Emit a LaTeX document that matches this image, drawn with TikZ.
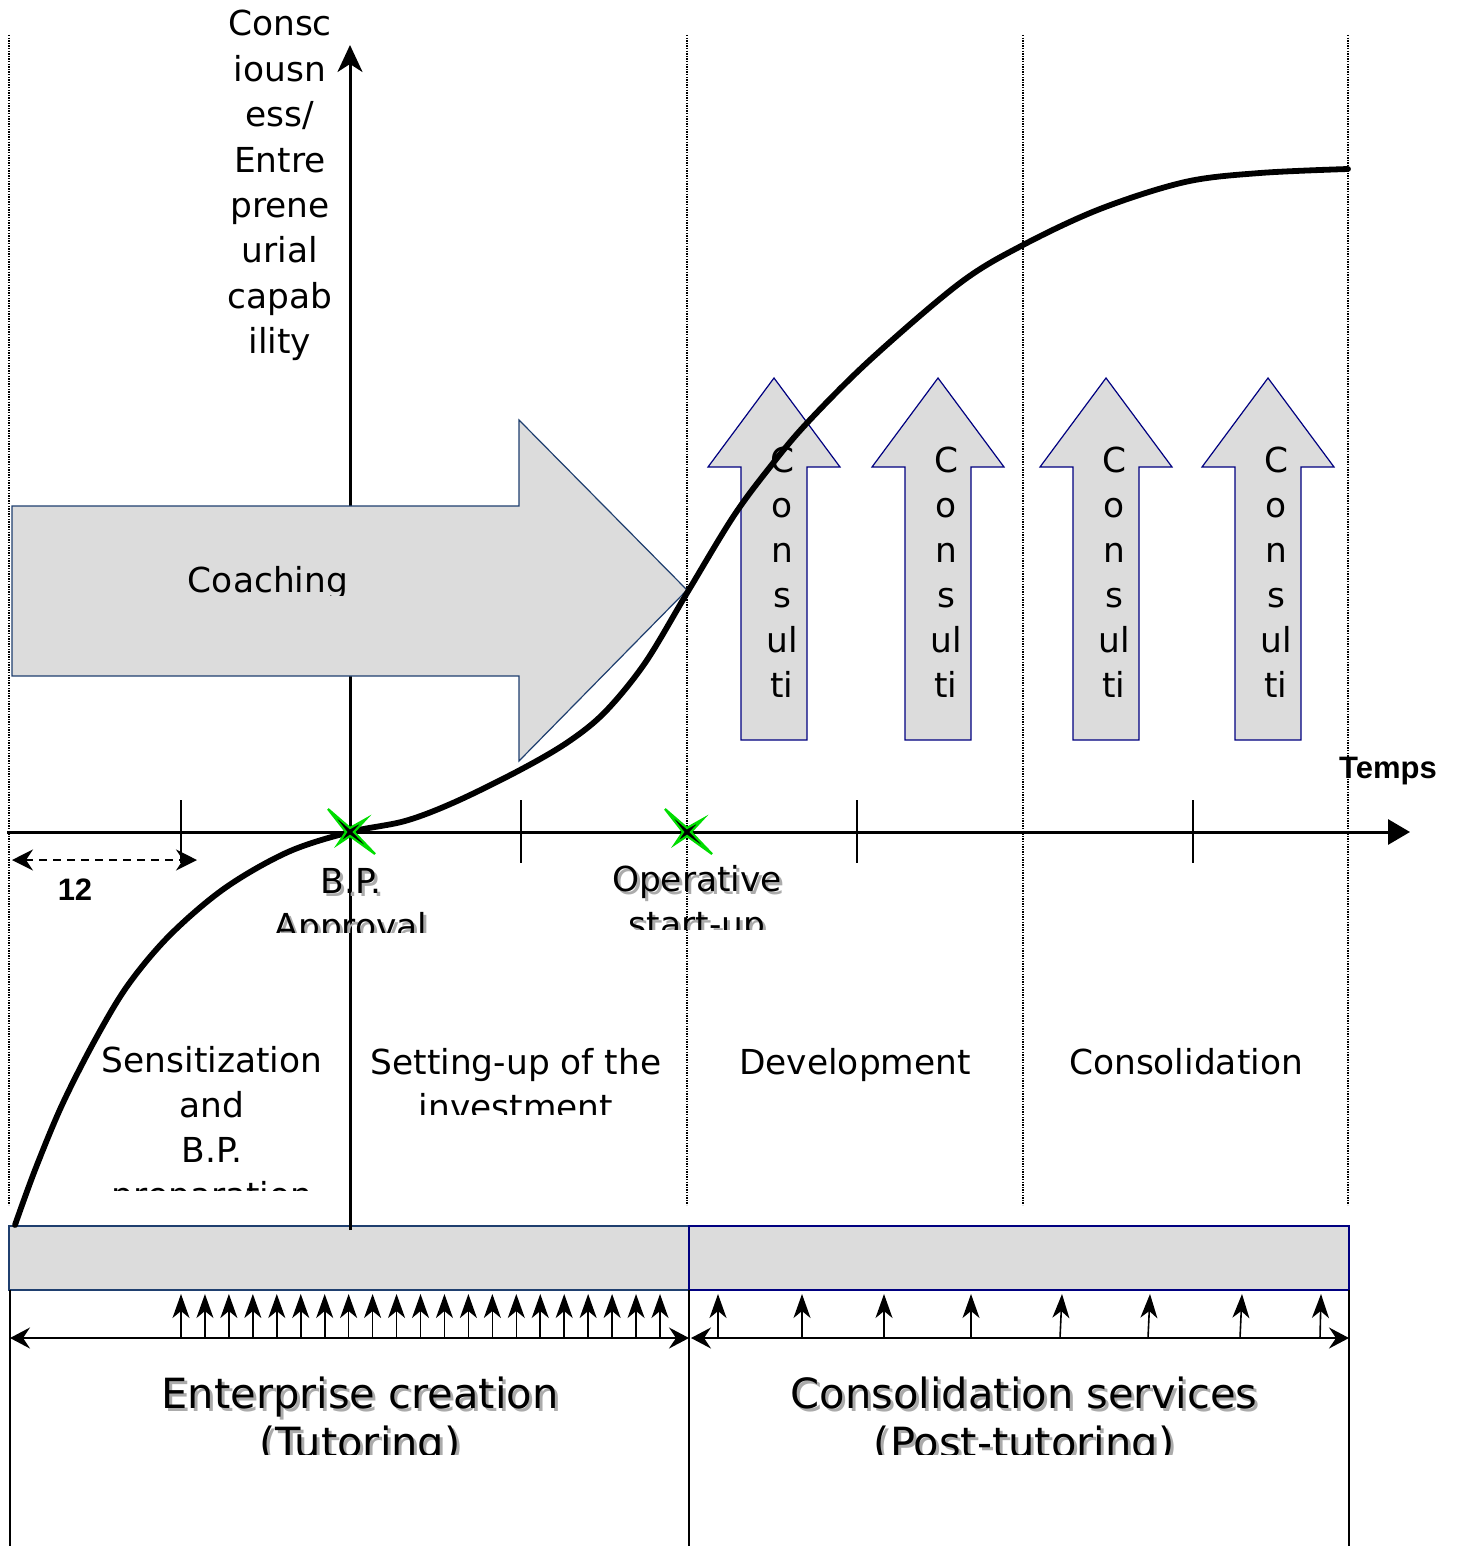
\documentclass[tikz,border=0pt]{standalone}
\usepackage{fontspec}
\setmainfont{DejaVu Sans}
\newfontfamily\boldsans{Liberation Sans}
\usetikzlibrary{arrows.meta}

\definecolor{panelgray}{HTML}{DCDCDC}
\definecolor{navyline}{HTML}{000080}
\definecolor{tealnavy}{HTML}{1F3F6F}
\definecolor{shadowgray}{HTML}{ABABAB}
\definecolor{stargreen}{HTML}{00DD00}

\begin{document}
\begin{tikzpicture}[x=0.5pt,y=-0.5pt,
  txt/.style={font=\fontsize{17.2}{20}\selectfont, inner sep=0pt, anchor=base},
  bigtxt/.style={font=\fontsize{20.8}{24}\selectfont, inner sep=0pt, anchor=base},
  boldtxt/.style={font=\boldsans\bfseries\fontsize{15.5}{18}\selectfont, inner sep=0pt, anchor=base},
  shade/.style={text=shadowgray},
  guide/.style={line width=0.7pt, dash pattern=on 0.7pt off 0.6pt},
  axisline/.style={line width=1.5pt},
  tickline/.style={line width=0.8pt},
  panel/.style={fill=panelgray, draw=navyline, line width=0.6pt},
  bar/.style={fill=panelgray, line width=1pt},
  curve/.style={line width=2.9pt, line join=round, line cap=round},
  starshape/.style={fill=black, draw=stargreen, line width=1.1pt, line join=miter},
  span/.style={line width=1.1pt, {Stealth[length=10pt,width=10.5pt,inset=3.5pt]}-{Stealth[length=10pt,width=10.5pt,inset=3.5pt]}},
  pulse/.style={line width=0.8pt, -{Stealth[length=12pt,width=8.5pt,inset=3.5pt]}},
  edge/.style={line width=0.8pt}
]
\useasboundingbox (0,0) rectangle (1456,1546);

% phase boundaries
\foreach \gx in {9,687,1023,1348}
  \draw[guide] (\gx,35) -- (\gx,1205);

% service bars
\draw[bar, draw=tealnavy] (9,1226) rectangle (689,1290);
\draw[bar, draw=navyline] (689,1226) rectangle (1349,1290);

% axes
\coordinate (xstart) at (7,832);
\coordinate (xend) at (1410,832);
\coordinate (ystart) at (350,1230);
\coordinate (yend) at (350,45);
\draw[axisline, -{Triangle[length=11pt,width=12.5pt]}] (xstart) -- (xend);
\draw[axisline, -{Stealth[length=13.5pt,width=12.5pt,inset=4pt]}] (ystart) -- (yend);
\foreach \tx in {181,521,857,1193}
  \draw[tickline] (\tx,800) -- (\tx,863);

% unit interval
\coordinate (ua) at (12,860);
\coordinate (ub) at (197,860);
\draw[line width=1pt, dash pattern=on 4pt off 3pt,
  {Stealth[length=10.5pt,width=10.5pt,inset=3.5pt]}-{Stealth[length=10.5pt,width=10.5pt,inset=3.5pt]}] (ua) -- (ub);
\node[boldtxt] (unit) at (75,900) {12};

% coaching arrow
\draw[panel, draw=tealnavy] (12,506) -- (519,506) -- (519,420) -- (687,590)
  -- (519,761) -- (519,676) -- (12,676) -- cycle;
\begin{scope}
  \clip (150,540) rectangle (420,595);
  \node[txt] (coach) at (268,592) {Coaching};
\end{scope}

% consulting arrows
\foreach \cx/\nm in {774/a,938/b,1106/c,1268/d}{
  \draw[panel] (\cx-33,740) -- (\cx-33,467) -- (\cx-66,467) -- (\cx,378)
    -- (\cx+66,467) -- (\cx+33,467) -- (\cx+33,740) -- cycle;
  \foreach \ch [count=\k from 0] in {C,o,n,s,ul,ti}
    \node[txt] (cons\nm\k) at (\cx+8,472+45*\k) {\ch};
}

% capability curve
\draw[curve] plot[smooth, tension=0.55] coordinates {
  (15,1225) (35,1170) (62,1105) (95,1040) (128,985) (170,935) (225,888)
  (288,852) (350,832) (405,821) (455,802) (520,770) (568,742) (605,712)
  (645,663) (687,593) (733,517) (770,467) (807,423) (870,360) (960,283)
  (1023,245) (1100,209) (1185,182) (1260,173) (1348,169)};

% milestones
\coordinate (bp) at (350,832);
\coordinate (op) at (687,832);
\foreach \m in {bp,op}{
  \begin{scope}[shift={(\m)}]
    \draw[starshape] (-22,-23) -- (0,-4) -- (16,-13) -- (4,0) -- (25,22)
      -- (0,4) -- (-12,12) -- (-4,0) -- cycle;
  \end{scope}
}

% y axis title
\foreach \w [count=\k from 0] in {Consc,iousn,ess/,Entre,prene,urial,capab,ility}
  \node[txt] (ylab\k) at (280,36+45.4*\k) {\w};

\node[boldtxt] (temps) at (1388,778) {Temps};

% milestone labels
\begin{scope}
  \clip (250,855) rectangle (460,932);
  \node[txt, shade] (bpas) at (354,896) {B.P.};
  \node[txt] (bpa) at (351,893) {B.P.};
  \node[txt, shade] (bpbs) at (354,941) {Approval};
  \node[txt] (bpb) at (351,938) {Approval};
\end{scope}
\begin{scope}
  \clip (590,850) rectangle (810,929);
  \node[txt, shade] (opas) at (700,894) {Operative};
  \node[txt] (opa) at (697,891) {Operative};
  \node[txt, shade] (opbs) at (700,939) {start-up};
  \node[txt] (opb) at (697,936) {start-up};
\end{scope}

% phase names
\begin{scope}
  \clip (80,1030) rectangle (345,1190);
  \foreach \w [count=\k from 0] in {Sensitization,and,B.P.,preparation}
    \node[txt] (sens\k) at (212,1072+45*\k) {\w};
\end{scope}
\begin{scope}
  \clip (355,1030) rectangle (680,1114);
  \node[txt] (setup0) at (516,1074) {Setting-up of the};
  \node[txt] (setup1) at (516,1119) {investment};
\end{scope}
\node[txt] (devel) at (855,1074) {Development};
\node[txt] (consol) at (1186,1074) {Consolidation};

% service periods
\draw[edge] (10,1290) -- (10,1546);
\draw[edge] (689,1290) -- (689,1546);
\draw[edge] (1349,1290) -- (1349,1546);
\coordinate (sa) at (10,1338);
\coordinate (sb) at (689,1338);
\coordinate (sc) at (691,1338);
\coordinate (sd) at (1349,1338);
\draw[span] (sa) -- (sb);
\draw[span] (sc) -- (sd);
\foreach \k in {0,...,20}
  \draw[pulse] (181+23.95*\k,1338) -- (181+23.95*\k,1294);
\foreach \bx/\tx in {718/718,802/802,884/884,971/971,1060/1062,1148/1150,1240/1242,1320/1321}
  \draw[pulse] (\bx,1338) -- (\tx,1294);

\begin{scope}
  \clip (100,1360) rectangle (640,1454);
  \node[bigtxt, shade] (ecs) at (363,1411) {Enterprise creation};
  \node[bigtxt] (ec) at (360,1408) {Enterprise creation};
  \node[bigtxt, shade] (tuts) at (363,1460) {(Tutoring)};
  \node[bigtxt] (tut) at (360,1457) {(Tutoring)};
\end{scope}
\begin{scope}
  \clip (720,1360) rectangle (1330,1454);
  \node[bigtxt, shade] (css) at (1027,1411) {Consolidation services};
  \node[bigtxt] (cs) at (1024,1408) {Consolidation services};
  \node[bigtxt, shade] (pts) at (1027,1460) {(Post-tutoring)};
  \node[bigtxt] (pt) at (1024,1457) {(Post-tutoring)};
\end{scope}
\end{tikzpicture}
\end{document}
